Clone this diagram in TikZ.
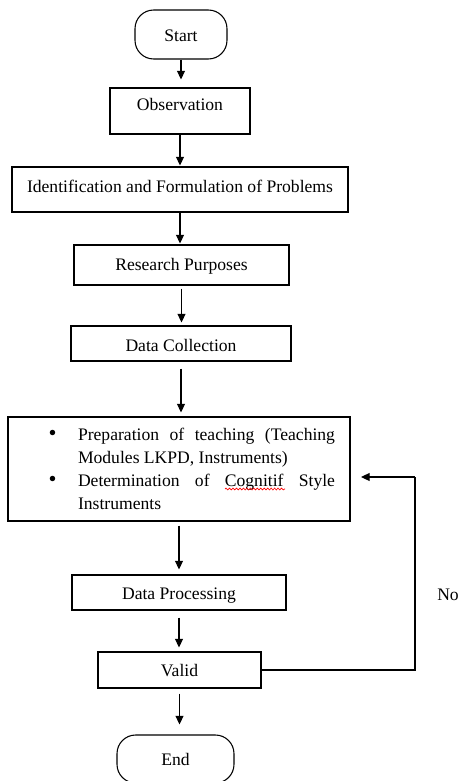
\documentclass[tikz,border=0pt]{standalone}
\usepackage{fontspec}
\setmainfont{Liberation Serif}
\usetikzlibrary{arrows.meta,decorations.pathmorphing}
\tikzset{
  box/.style={draw, rectangle, line width=0.8pt, inner sep=0pt, align=center, font=\fontsize{13.2}{15}\selectfont},
  term/.style={box, rounded corners=14pt},
  arr/.style={line width=0.8pt, -{Triangle[length=6.5pt,width=6pt]}},
  fb/.style={line width=0.8pt},
  spell/.style={red, line width=0.5pt, decorate, decoration={snake, segment length=2.6pt, amplitude=0.7pt}}
}
\newcommand\mybullet{\llap{{\fontsize{17}{17}\selectfont\textbullet}\hspace{16pt}}}
\begin{document}
\begin{tikzpicture}[x=0.75pt,y=-0.75pt]
\useasboundingbox (0,0) rectangle (459,781);

\node[term, minimum width=69pt, text height=24pt, text depth=12.75pt] (start) at (181,34.5) {Start};
\node[box, minimum width=105pt, text height=17.25pt, text depth=17.25pt] (obs) at (180,111) {Observation};
\node[box, minimum width=252pt, text height=18.75pt, text depth=15pt] (ident) at (180,189.5) {Identification and Formulation of Problems};
\node[box, minimum width=161.25pt, text height=18.75pt, text depth=11.25pt] (rp) at (181.5,265) {Research Purposes};
\node[box, minimum width=165pt, text height=18.75pt, text depth=7.5pt] (dc) at (181,343.5) {Data Collection};
\node[box, text width=256.5pt, text height=17.25pt, text depth=60.75pt, align=justify, font=\fontsize{13.2}{17.25}\selectfont] (prep) at (179,469)
{\parindent=0pt\leftskip=52.5pt\rightskip=11.25pt
\noindent\mybullet Preparation of teaching (Teaching\linebreak Modules LKPD, Instruments)\par
\noindent\mybullet Determination of Cognitif Style\linebreak Instruments\par};
\node[box, minimum width=160.5pt, text height=18pt, text depth=8.25pt] (dp) at (179,592.5) {Data Processing};
\node[box, minimum width=122.25pt, text height=18pt, text depth=9pt] (valid) at (179.5,670) {Valid};
\node[term, minimum width=87.75pt, text height=22.5pt, text depth=13.5pt] (end) at (175.5,759) {End};

\node[anchor=base west, inner sep=0pt, font=\fontsize{13.2}{15}\selectfont] (no) at (437,600) {No};

\draw[arr, shorten >=6pt] (start.south) -- (start.south |- obs.north);
\draw[arr, shorten >=0.75pt] (obs.south) -- (obs.south |- ident.north);
\draw[arr, shorten >=0.75pt] (ident.south) -- (ident.south |- rp.north);
\draw[arr, shorten <=2.25pt, shorten >=2.25pt] (rp.south) -- (rp.south |- dc.north);
\draw[arr, shorten <=5.25pt, shorten >=3pt] (dc.south) -- (dc.south |- prep.north);
\draw[arr, shorten <=3pt, shorten >=3.75pt] (prep.south) -- (prep.south |- dp.north);
\draw[arr, shorten <=5.25pt, shorten >=3pt] (dp.south) -- (dp.south |- valid.north);
\draw[arr, shorten <=3.75pt, shorten >=7.5pt] (valid.south) -- (valid.south |- end.north);

\coordinate (fbtip) at (361,477);
\coordinate (fbcorner) at (415,477);
\draw[fb] (valid.east) -- (valid.east -| fbcorner) -- (fbcorner);
\draw[arr] (fbcorner) -- (fbtip);

\coordinate (wavea) at (225,489);
\coordinate (waveb) at (285,489);
\draw[spell] (wavea) -- (waveb);
\end{tikzpicture}
\end{document}
